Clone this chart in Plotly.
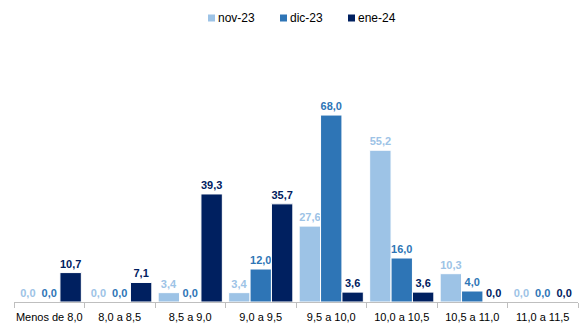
import plotly.graph_objects as go

categories = ["Menos de 8,0", "8,0 a 8,5", "8,5 a 9,0", "9,0 a 9,5", "9,5 a 10,0", "10,0 a 10,5", "10,5 a 11,0", "11,0 a 11,5"]
nov23 = [0.0, 0.0, 3.4, 3.4, 27.6, 55.2, 10.3, 0.0]
dic23 = [0.0, 0.0, 0.0, 12.0, 68.0, 16.0, 4.0, 0.0]
ene24 = [10.7, 7.1, 39.3, 35.7, 3.6, 3.6, 0.0, 0.0]

series = [("nov-23", nov23, "#9DC3E6"), ("dic-23", dic23, "#2E75B6"), ("ene-24", ene24, "#002060")]

W, H = 584, 323
L, R, T, B = 14, 6, 40, 21
pw, ph = W - L - R, H - T - B

def px(x):
    return (x - L) / pw

def py(y):
    return (H - B - y) / ph

fig = go.Figure()
for name, vals, color in series:
    fig.add_trace(go.Bar(
        x=categories, y=vals, name=name,
        marker=dict(color=color, line=dict(color="white", width=1)),
        text=[f"{v:.1f}".replace(".", ",") for v in vals],
        textposition="outside",
        textfont=dict(family="Liberation Sans, Arial", size=11, color=color, weight="bold"),
        cliponaxis=False,
        showlegend=False,
    ))

# custom legend
legend_pos = [208, 280, 348]
shapes, annots = [], []
for (name, _, color), x0 in zip(series, legend_pos):
    shapes.append(dict(type="rect", xref="paper", yref="paper",
                       x0=px(x0), x1=px(x0 + 7), y0=py(21.5), y1=py(14.5),
                       fillcolor=color, line=dict(width=0)))
    annots.append(dict(xref="paper", yref="paper", x=px(x0 + 8), y=py(18),
                       xanchor="left", yanchor="middle", text=name, showarrow=False,
                       font=dict(size=12, color="#000000")))

fig.update_layout(
    width=W, height=H,
    margin=dict(l=L, r=R, t=T, b=B, autoexpand=False),
    paper_bgcolor="white", plot_bgcolor="white",
    barmode="group", bargap=0.09, bargroupgap=0,
    font=dict(family="Liberation Sans, Arial", size=12, color="#000000"),
    showlegend=False,
    shapes=shapes, annotations=annots,
)
fig.update_xaxes(showline=True, linecolor="#BFBFBF", linewidth=1, ticks="outside",
                 tickson="boundaries", ticklen=5, tickcolor="#BFBFBF", tickangle=0,
                 automargin=False, ticklabelstandoff=5,
                 tickfont=dict(size=11, color="#000000"), showgrid=False)
fig.update_yaxes(visible=False, range=[0, 95.3], showgrid=False, automargin=False)

fig.write_html("out.html")
